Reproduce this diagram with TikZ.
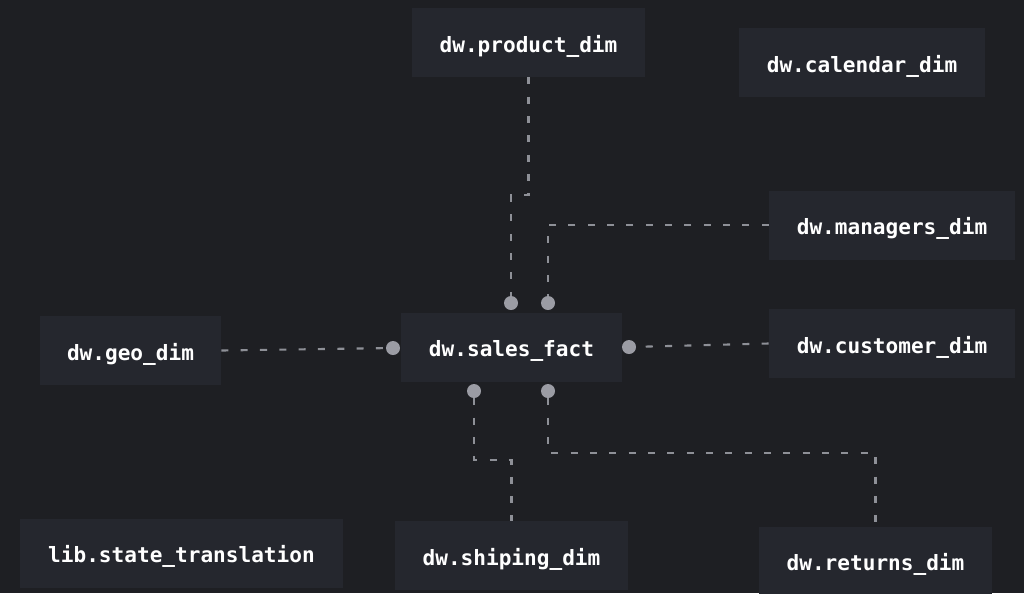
\documentclass[tikz,border=0pt]{standalone}
\usepackage{fontspec}
\setmonofont{DejaVu Sans Mono}
\usetikzlibrary{positioning,calc}

\definecolor{canvas}{HTML}{1E1F23}
\definecolor{boxfill}{HTML}{25272E}
\definecolor{linkgray}{HTML}{8E9097}
\definecolor{dotgray}{HTML}{9B9CA4}

\begin{document}
\begin{tikzpicture}[
  x=0.02cm,y=-0.02cm,
  tblnode/.style={rectangle,fill=boxfill,inner sep=0pt,minimum width=#1,minimum height=1.38cm,text height=11pt,text depth=0pt,font=\ttfamily\bfseries\fontsize{12}{14}\selectfont,text=white},
  tblnode/.default=4.66cm,
  dotend/.style={circle,fill=dotgray,inner sep=0pt,minimum size=0.28cm},
  link/.style={linkgray,line width=1.2pt,dash pattern=on 4pt off 7pt},
]

\fill[canvas] (0,0) rectangle (1024,593);
\useasboundingbox (0,0) rectangle (1024,593);

% === tables ===
\node[tblnode] (product) at (528.5,42.5) {dw.product\_dim};
\node[tblnode=4.92cm] (calendar) at (862,62.5) {dw.calendar\_dim};
\node[tblnode=4.92cm] (managers) at (892,225) {dw.managers\_dim};
\node[tblnode=4.92cm] (customer) at (892,343.5) {dw.customer\_dim};
\node[tblnode=3.62cm] (geo) at (130.5,350.5) {dw.geo\_dim};
\node[tblnode=4.42cm] (sales) at (511.5,347) {dw.sales\_fact};
\node[tblnode=6.46cm] (state) at (181.5,553) {lib.state\_translation};
\node[tblnode] (shiping) at (511.5,555.5) {dw.shiping\_dim};
\node[tblnode] (returns) at (875.5,561) {dw.returns\_dim};

% connection points on the fact table
\node[dotend] (ptop1) at (511,303) {};
\node[dotend] (ptop2) at (548,303) {};
\node[dotend] (pleft) at (393,348) {};
\node[dotend] (pright) at (629,347) {};
\node[dotend] (pbot1) at (474,391) {};
\node[dotend] (pbot2) at (548,391) {};

% === links ===
\draw[link] (product.south) -- ++(0,118) -| (ptop1);
\draw[link] (managers.west) -| (ptop2);
\draw[link] (geo.east) -- (pleft);
\draw[link] (customer.west) -- (pright);
\draw[link] (pbot1) -- ++(0,69) -| (shiping.north);
\draw[link] (pbot2) -- ++(0,62) -| (returns.north);

\end{tikzpicture}
\end{document}
